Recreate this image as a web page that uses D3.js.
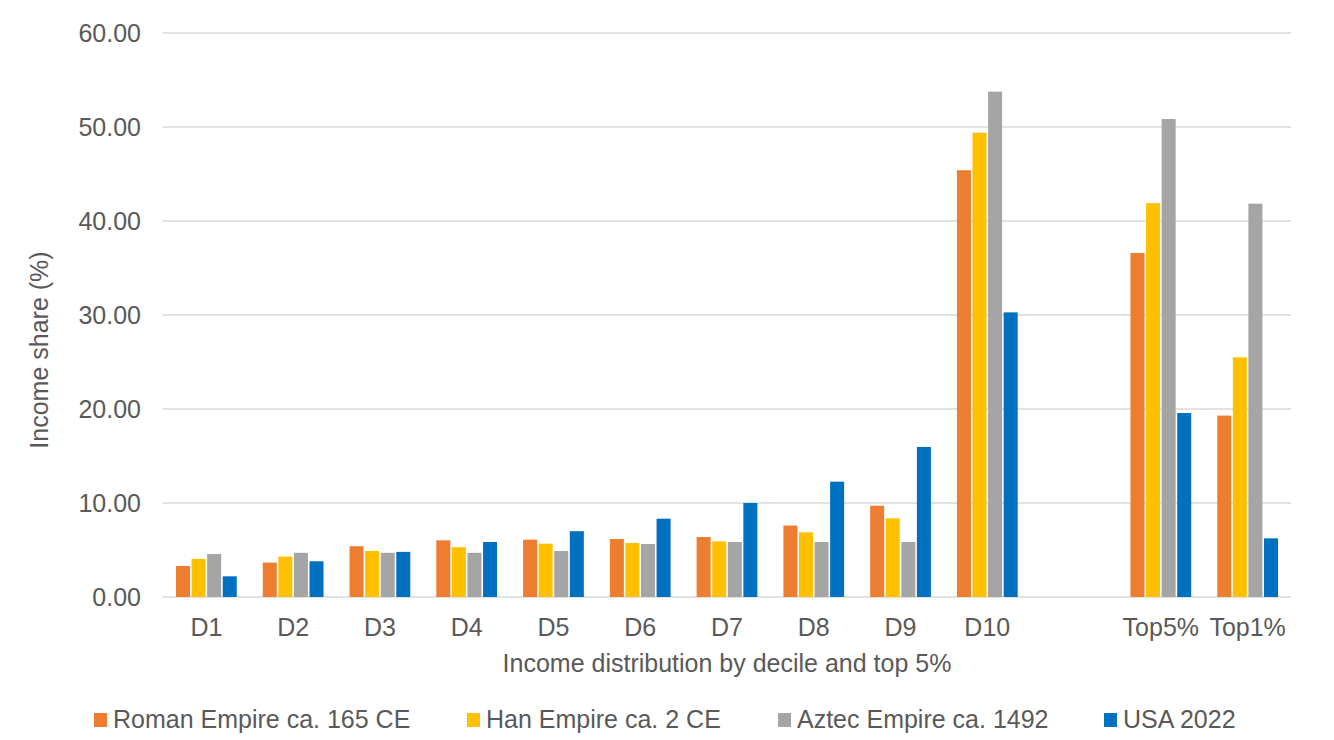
<!DOCTYPE html>
<html>
<head>
<meta charset="utf-8">
<script src="https://cdn.jsdelivr.net/npm/d3@7"></script>
<style>
  body { margin: 0; background: #fff; }
  text { font-family: "Liberation Sans", Arial, sans-serif; fill: #595959; }
</style>
</head>
<body>
<svg id="chart" width="1334" height="740"></svg>
<script>
// categories ("" is the empty slot between D10 and Top5%)
const categories = ["D1", "D2", "D3", "D4", "D5", "D6", "D7", "D8", "D9", "D10", "", "Top5%", "Top1%"];
const seriesNames = ["Roman Empire ca. 165 CE", "Han Empire ca. 2 CE", "Aztec Empire ca. 1492", "USA 2022"];
const colors = ["#ED7D31", "#FFC000", "#A5A5A5", "#0070C0"];

const roman = [3.3, 3.66, 5.4, 6.03, 6.1, 6.17, 6.38, 7.6, 9.71, 45.4, null, 36.6, 19.3];
const han   = [4.05, 4.3, 4.9, 5.3, 5.67, 5.74, 5.92, 6.88, 8.37, 49.4, null, 41.9, 25.5];
const aztec = [4.58, 4.7, 4.7, 4.7, 4.9, 5.64, 5.85, 5.85, 5.85, 53.76, null, 50.85, 41.84];
const usa   = [2.2, 3.8, 4.8, 5.85, 7.0, 8.33, 10.0, 12.27, 15.96, 30.28, null, 19.57, 6.24];

const yTicks = [0, 10, 20, 30, 40, 50, 60];

const allSeries = [roman, han, aztec, usa];

const svg = d3.select("#chart");
const margin = { top: 33, right: 43, bottom: 143, left: 163 };
const width = 1334 - margin.left - margin.right;
const height = 740 - margin.top - margin.bottom;

const chart = svg.append("g")
  .attr("transform", `translate(${margin.left},${margin.top})`);

const x0 = d3.scaleBand()
  .domain(d3.range(categories.length))
  .range([0, width])
  .paddingInner(0.3)
  .paddingOuter(0.15);

const x1 = d3.scaleBand()
  .domain(d3.range(seriesNames.length))
  .range([0, x0.bandwidth()])
  .paddingInner(0.1);

const y = d3.scaleLinear()
  .domain([0, 60])
  .range([height, 0]);

// gridlines
chart.append("g")
  .selectAll("line")
  .data(yTicks)
  .enter().append("line")
  .attr("x1", 0)
  .attr("x2", width)
  .attr("y1", d => y(d))
  .attr("y2", d => y(d))
  .attr("stroke", "#d9d9d9")
  .attr("stroke-width", 1.3);

// y tick labels
chart.append("g")
  .selectAll("text")
  .data(yTicks)
  .enter().append("text")
  .attr("x", -22)
  .attr("y", d => y(d))
  .attr("dy", "0.35em")
  .attr("text-anchor", "end")
  .style("font-size", "25px")
  .text(d => d3.format(".2f")(d));

// bars
const groups = chart.selectAll(".grp")
  .data(categories)
  .enter().append("g")
  .attr("class", "grp")
  .attr("transform", (d, i) => `translate(${x0(i)},0)`);

groups.selectAll("rect")
  .data((d, i) => allSeries.map((s, k) => ({ k: k, v: s[i] })).filter(e => e.v != null))
  .enter().append("rect")
  .attr("x", d => x1(d.k))
  .attr("width", x1.bandwidth())
  .attr("y", d => y(d.v))
  .attr("height", d => y(0) - y(d.v))
  .attr("fill", d => colors[d.k]);

// x labels
chart.append("g")
  .selectAll("text")
  .data(categories)
  .enter().append("text")
  .attr("x", (d, i) => x0(i) + x0.bandwidth() / 2)
  .attr("y", height + 39)
  .attr("text-anchor", "middle")
  .style("font-size", "25px")
  .text(d => d);

// axis titles
svg.append("text")
  .attr("x", margin.left + width / 2)
  .attr("y", 672)
  .attr("text-anchor", "middle")
  .style("font-size", "25px")
  .text("Income distribution by decile and top 5%");

svg.append("text")
  .attr("transform", "translate(48,350) rotate(-90)")
  .attr("text-anchor", "middle")
  .style("font-size", "25px")
  .text("Income share (%)");

// legend
const legendX = [94, 467, 778, 1104];
const legend = svg.append("g");
seriesNames.forEach((name, k) => {
  legend.append("rect")
    .attr("x", legendX[k])
    .attr("y", 713)
    .attr("width", 13)
    .attr("height", 14)
    .attr("fill", colors[k]);
  legend.append("text")
    .attr("x", legendX[k] + 19)
    .attr("y", 728)
    .style("font-size", "25px")
    .text(name);
});
</script>
</body>
</html>
